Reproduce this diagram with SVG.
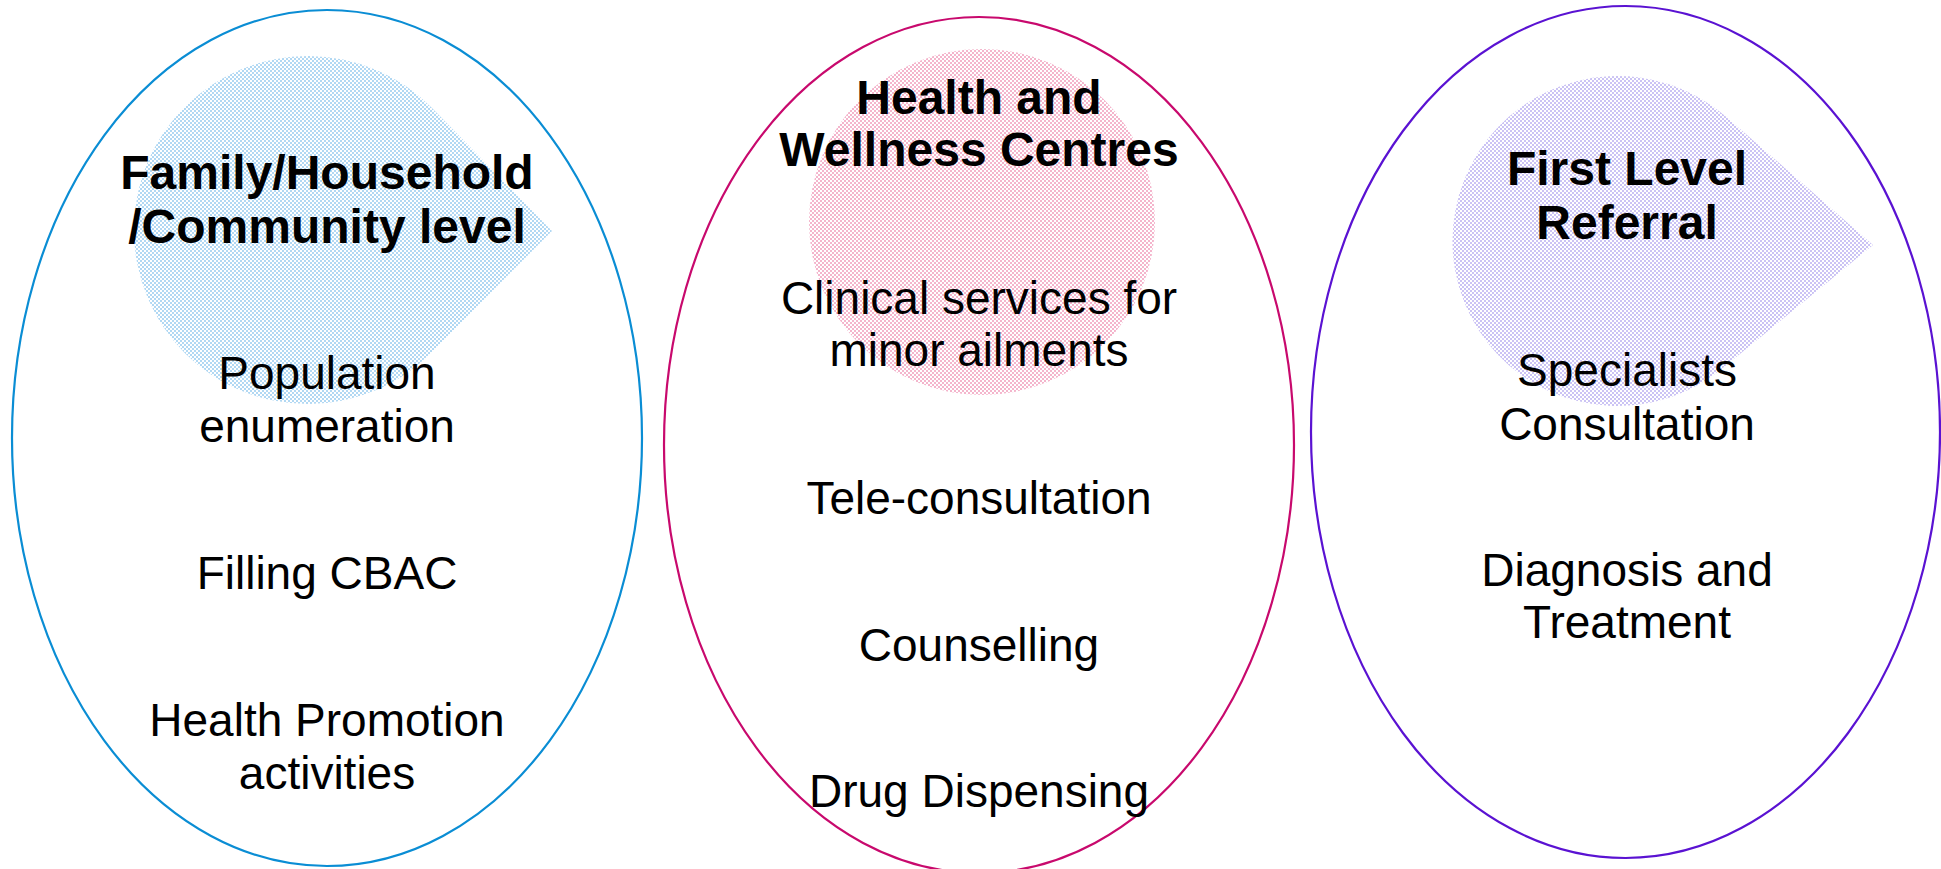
<svg xmlns="http://www.w3.org/2000/svg" width="1941" height="869" viewBox="0 0 1941 869">
<style>
  .ring{fill:none;stroke-width:2.2}
  .t{font-family:"Liberation Sans",Arial,sans-serif;font-size:46px;fill:#000;text-anchor:middle}
  .h{font-family:"Liberation Sans",Arial,sans-serif;font-size:48px;font-weight:bold;fill:#000;text-anchor:middle}
</style>
<defs>
  <pattern id="dotBlue" width="4" height="4" patternUnits="userSpaceOnUse">
    <circle cx="1" cy="1" r="0.75" fill="#3a9de0"/>
    <circle cx="3" cy="3" r="0.75" fill="#3a9de0"/>
  </pattern>
  <pattern id="dotPink" width="4" height="4" patternUnits="userSpaceOnUse">
    <circle cx="1" cy="1" r="0.75" fill="#e4457f"/>
    <circle cx="3" cy="3" r="0.75" fill="#e4457f"/>
  </pattern>
  <pattern id="dotPurple" width="4" height="4" patternUnits="userSpaceOnUse">
    <circle cx="1" cy="1" r="0.75" fill="#7c68e2"/>
    <circle cx="3" cy="3" r="0.75" fill="#7c68e2"/>
  </pattern>
</defs>
<rect width="1941" height="869" fill="#fff"/>

<g id="community">
  <path d="M552 231 L432 108 A174 174 0 1 0 432 352 Z" fill="url(#dotBlue)"/>
  <ellipse class="ring" cx="327" cy="438" rx="315" ry="428" stroke="#0a8dd4"/>
  <text class="h" x="327" y="189">Family/Household</text>
  <text class="h" x="327" y="243">/Community level</text>
  <text class="t" x="327" y="389">Population</text>
  <text class="t" x="327" y="442">enumeration</text>
  <text class="t" x="327" y="589">Filling CBAC</text>
  <text class="t" x="327" y="736">Health Promotion</text>
  <text class="t" x="327" y="789">activities</text>
</g>

<g id="hwc">
  <circle cx="982" cy="222" r="173" fill="url(#dotPink)"/>
  <ellipse class="ring" cx="979" cy="445" rx="315" ry="428" stroke="#c8096d"/>
  <text class="h" x="979" y="114">Health and</text>
  <text class="h" x="979" y="166">Wellness Centres</text>
  <text class="t" x="979" y="314">Clinical services for</text>
  <text class="t" x="979" y="366">minor ailments</text>
  <text class="t" x="979" y="514">Tele-consultation</text>
  <text class="t" x="979" y="661">Counselling</text>
  <text class="t" x="979" y="807">Drug Dispensing</text>
</g>

<g id="referral">
  <path d="M1873 245 L1724 115 A165 165 0 1 0 1724 367 Z" fill="url(#dotPurple)"/>
  <ellipse class="ring" cx="1625.5" cy="432" rx="314.5" ry="426" stroke="#5a12d2"/>
  <text class="h" x="1627" y="185">First Level</text>
  <text class="h" x="1627" y="239">Referral</text>
  <text class="t" x="1627" y="386">Specialists</text>
  <text class="t" x="1627" y="440">Consultation</text>
  <text class="t" x="1627" y="586">Diagnosis and</text>
  <text class="t" x="1627" y="638">Treatment</text>
</g>

<g id="connectors"></g>
</svg>
